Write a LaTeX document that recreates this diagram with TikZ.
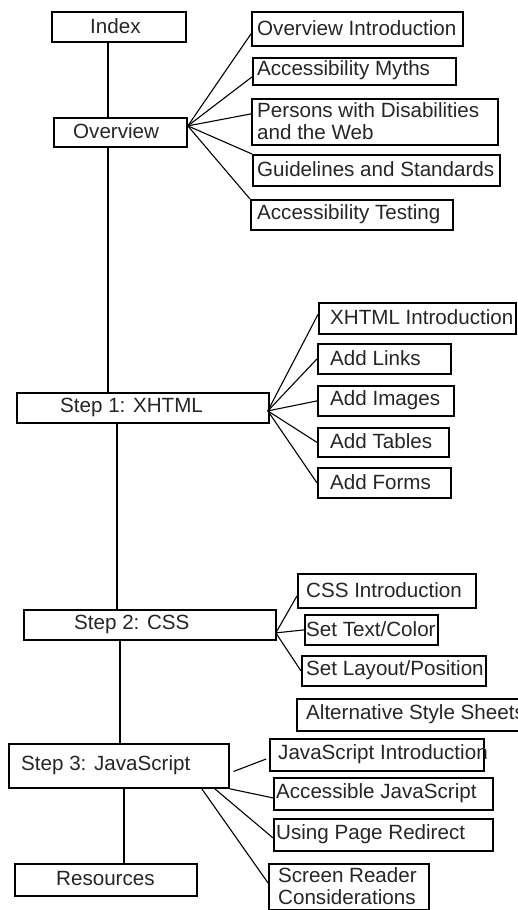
\documentclass[tikz,border=0pt]{standalone}
\usepackage{fontspec}
\setmainfont{Liberation Sans}
\usetikzlibrary{calc}
\tikzset{
  box/.style={draw=black, line width=1.8pt, inner sep=0pt, anchor=north west, fill=white},
  lbl/.style={anchor=west, inner sep=0pt, align=left, text=black!85,
              font=\fontsize{20.6}{21.5}\selectfont},
  spine/.style={line width=1.8pt},
  twig/.style={line width=1.1pt},
}
% \tbox{name}{x1}{y1}{x2}{y2}{text x}{text}: framed box plus its caption
\newcommand{\tbox}[7]{%
  \node[box, minimum width={(#4)-(#2)}, minimum height={(#5)-(#3)}] (#1) at (#2,#3) {};
  \node[lbl] (#1-t) at (#6,{((#3)+(#5))/2}) {#7};
}
\begin{document}
\begin{tikzpicture}[x=1pt,y=-1pt]
\useasboundingbox (0,0) rectangle (518,910);
\clip (0,0) rectangle (518,910);
\fill[white] (0,0) rectangle (518,910);

% main column
\tbox{index}{51}{11}{185}{41}{90}{Index}
\tbox{ov}{53}{117}{186}{146}{73}{Overview}
\tbox{s1}{16}{392}{268}{422}{60}{Step 1: XHTML}
\tbox{s2}{23}{609}{275}{639}{74}{Step 2: CSS}
\tbox{s3}{8}{743}{228}{787}{21}{Step 3: JavaScript}
\tbox{res}{14}{863}{196}{895}{56}{Resources}

% overview pages
\tbox{oi}{251}{11}{462}{45}{257}{Overview Introduction}
\tbox{am}{252}{57}{455}{84}{257}{Accessibility Myths}
\tbox{pd}{251}{98}{497}{144}{257}{Persons with Disabilities\\and the Web}
\tbox{gs}{252}{154}{499}{185}{257}{Guidelines and Standards}
\tbox{tst}{250}{199}{452}{229}{257}{Accessibility Testing}

% XHTML pages
\tbox{xi}{318}{302}{515}{333}{330}{XHTML Introduction}
\tbox{al}{317}{343}{450}{373}{330}{Add Links}
\tbox{ai}{317}{385}{453}{415}{330}{Add Images}
\tbox{atb}{317}{427}{448}{456}{330}{Add Tables}
\tbox{af}{317}{467}{450}{497}{330}{Add Forms}

% CSS pages
\tbox{ci}{297}{573}{475}{607}{306}{CSS Introduction}
\tbox{st}{304}{614}{437}{644}{306}{Set Text/Color}
\tbox{sl}{301}{655}{485}{685}{306}{Set Layout/Position}
\tbox{as}{296}{698}{560}{730}{306}{Alternative Style Sheets}

% JavaScript pages
\tbox{ji}{269}{738}{483}{770}{278}{JavaScript Introduction}
\tbox{aj}{273}{777}{492}{809}{276}{Accessible JavaScript}
\tbox{pr}{273}{818}{492}{850}{276}{Using Page Redirect}
\tbox{sr}{268}{863}{428}{909}{278}{Screen Reader\\Considerations}

% spine
\coordinate (c1) at (108,0);
\coordinate (c2) at (117,0);
\coordinate (c3) at (120,0);
\coordinate (c4) at (124,0);
\draw[spine] (index.south -| c1) -- (ov.north -| c1);
\draw[spine] (ov.south -| c1) -- (s1.north -| c1);
\draw[spine] (s1.south -| c2) -- (s2.north -| c2);
\draw[spine] (s2.south -| c3) -- (s3.north -| c3);
\draw[spine] (s3.south -| c4) -- (res.north -| c4);

% overview fan
\coordinate (h0) at ([yshift=6.5pt]ov.east);
\draw[twig] (h0) -- ([yshift=-5pt]oi.west);
\draw[twig] (h0) -- ([yshift=-5.5pt]am.west);
\draw[twig] (h0) -- ([yshift=8pt]pd.west);
\draw[twig] (h0) -- (gs.north west);
\draw[twig] (h0) -- (tst.north west);

% XHTML fan
\coordinate (h1) at ([xshift=-2pt,yshift=-3pt]s1.east);
\draw[twig] (h1) -- ([yshift=4pt]xi.west);
\draw[twig] (h1) -- (al.west);
\draw[twig] (h1) -- (ai.west);
\draw[twig] (h1) -- (atb.west);
\draw[twig] (h1) -- (af.west);

% CSS fan
\coordinate (h2) at ([xshift=-1pt,yshift=-8pt]s2.east);
\draw[twig] (h2) -- ([yshift=-5pt]ci.west);
\draw[twig] (h2) -- (st.west);
\draw[twig] (h2) -- (sl.west);

% JavaScript links
\draw[twig, shorten <=4pt, shorten >=3pt] ([yshift=-7pt]s3.east) -- ([yshift=-3pt]ji.west);
\draw[twig] (s3.south east) -- ([yshift=-4pt]aj.west);
\draw[twig] ([xshift=-15pt]s3.south east) -- ([yshift=-3pt]pr.west);
\draw[twig] ([xshift=-28pt]s3.south east) -- ([yshift=4pt]sr.west);
\end{tikzpicture}
\end{document}
